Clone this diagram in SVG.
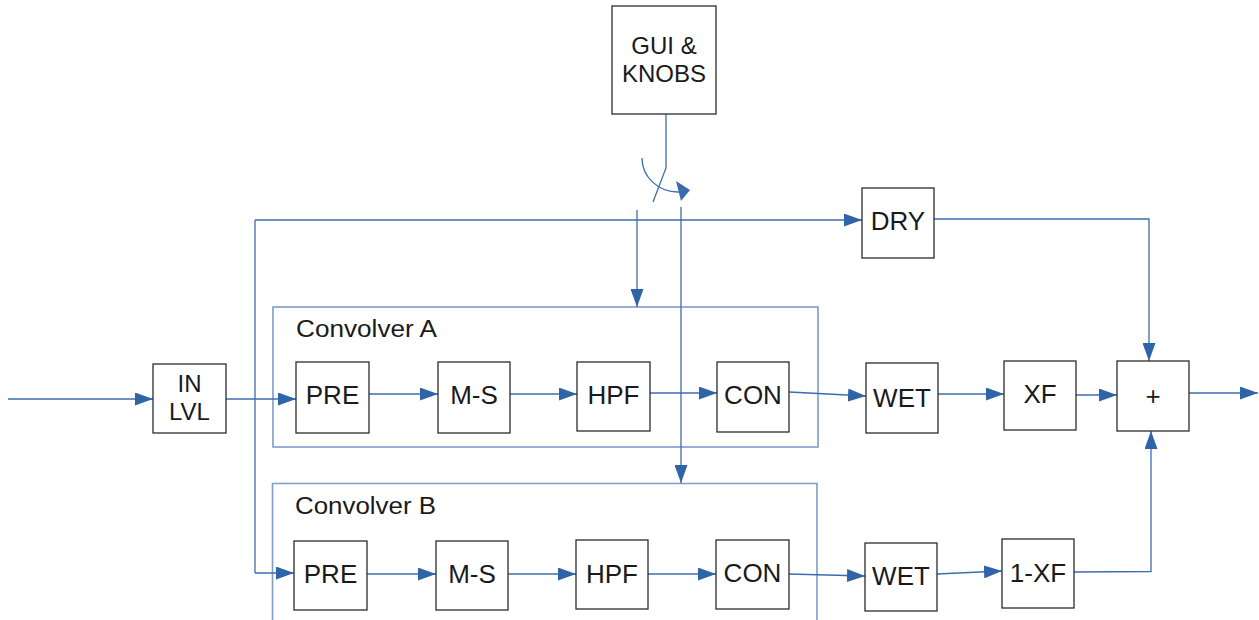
<svg xmlns="http://www.w3.org/2000/svg" width="1259" height="620" viewBox="0 0 1259 620">
<defs>
<marker id="arr" markerUnits="userSpaceOnUse" markerWidth="18" markerHeight="13" refX="18" refY="6.5" orient="auto">
<path d="M0,0 L18,6.5 L0,13 z" fill="#2f64a8"/>
</marker>
<style>
.box{fill:#fff;stroke:#2b2b2b;stroke-width:1.3}
.lbl{font-family:"Liberation Sans",Arial,sans-serif;font-size:26px;fill:#1a1a1a;text-anchor:middle}
.lbl2{font-family:"Liberation Sans",Arial,sans-serif;font-size:24px;fill:#1a1a1a;text-anchor:middle}
.cap{font-family:"Liberation Sans",Arial,sans-serif;font-size:23px;fill:#1a1a1a}
.frame{fill:none;stroke:#7f9ccb;stroke-width:1.6}
.wire{fill:none;stroke:#3c6cae;stroke-width:1.3}
.wa{fill:none;stroke:#3c6cae;stroke-width:1.3;marker-end:url(#arr)}
</style>
</defs>
<rect width="1259" height="620" fill="#fff"/>

<g id="frames">
<g id="convolverA">
<rect class="frame" x="273" y="307" width="545" height="140"/>
<text class="cap" x="296" y="337" textLength="141" lengthAdjust="spacingAndGlyphs">Convolver A</text>
</g>
<g id="convolverB">
<path class="frame" d="M272.5,620 V483.5 H817 V620"/>
<text class="cap" x="295" y="514" textLength="141" lengthAdjust="spacingAndGlyphs">Convolver B</text>
</g>
</g>

<g id="connectors">
<path class="wa" d="M8,399 H153"/>
<path class="wa" d="M226,399 H296"/>
<path class="wire" d="M255,220 V573"/>
<path class="wa" d="M255,220 H862"/>
<path class="wa" d="M255,573 H294"/>
<path class="wa" d="M369,394 H438"/>
<path class="wa" d="M510,394 H577"/>
<path class="wa" d="M650,393 H717"/>
<path class="wa" d="M789,392 L866,396"/>
<path class="wa" d="M938,394 H1004"/>
<path class="wa" d="M1076,395 H1117"/>
<path class="wa" d="M367,574 H436"/>
<path class="wa" d="M508,574 H576"/>
<path class="wa" d="M648,574 H716"/>
<path class="wa" d="M789,574 L865,576"/>
<path class="wa" d="M937,574 L1002,571"/>
<path class="wa" d="M1074,572 L1151,571.5 V431"/>
<path class="wa" d="M934,219 H1149 V361"/>
<path class="wa" d="M1189,393 H1258"/>
<path class="wire" d="M666,114 V168 L653,202"/>
<path class="wire" d="M642,158 A36,34 0 0 0 679,192" stroke-width="1.6"/>
<polygon points="676,181 681,201 690,190" fill="#3c6cae"/>
<path class="wa" d="M637,210 V307"/>
<path class="wa" d="M681,207 V483"/>
</g>

<g id="gui"><rect class="box" x="612" y="6" width="104" height="108"/>
<text class="lbl2" x="664" y="54">GUI &amp;</text><text class="lbl2" x="664" y="82">KNOBS</text></g>
<g id="inlvl"><rect class="box" x="153" y="364" width="73" height="69"/>
<text class="lbl2" x="189.5" y="392">IN</text><text class="lbl2" x="189.5" y="420">LVL</text></g>
<g id="dry"><rect class="box" x="862" y="188" width="72" height="70"/><text class="lbl" x="898" y="230">DRY</text></g>

<g id="preA"><rect class="box" x="296" y="362" width="73" height="71"/><text class="lbl" x="332.5" y="404">PRE</text></g>
<g id="msA"><rect class="box" x="438" y="362" width="72" height="71"/><text class="lbl" x="474" y="404">M-S</text></g>
<g id="hpfA"><rect class="box" x="577" y="362" width="73" height="69"/><text class="lbl" x="613.5" y="404">HPF</text></g>
<g id="conA"><rect class="box" x="717" y="362" width="72" height="70"/><text class="lbl" x="753" y="404">CON</text></g>
<g id="wetA"><rect class="box" x="866" y="363" width="72" height="70"/><text class="lbl" x="902" y="407">WET</text></g>
<g id="xf"><rect class="box" x="1004" y="361" width="72" height="69"/><text class="lbl" x="1040" y="403">XF</text></g>
<g id="sum"><rect class="box" x="1117" y="361" width="72" height="70"/><text class="lbl" x="1153" y="405">+</text></g>

<g id="preB"><rect class="box" x="294" y="541" width="73" height="69"/><text class="lbl" x="330.5" y="583">PRE</text></g>
<g id="msB"><rect class="box" x="436" y="541" width="72" height="69"/><text class="lbl" x="472" y="583">M-S</text></g>
<g id="hpfB"><rect class="box" x="576" y="540" width="72" height="69"/><text class="lbl" x="612" y="583">HPF</text></g>
<g id="conB"><rect class="box" x="716" y="540" width="73" height="69"/><text class="lbl" x="752.5" y="582">CON</text></g>
<g id="wetB"><rect class="box" x="865" y="543" width="72" height="68"/><text class="lbl" x="901" y="585">WET</text></g>
<g id="onexf"><rect class="box" x="1002" y="539" width="72" height="69"/><text class="lbl" x="1038" y="582">1-XF</text></g>
</svg>
